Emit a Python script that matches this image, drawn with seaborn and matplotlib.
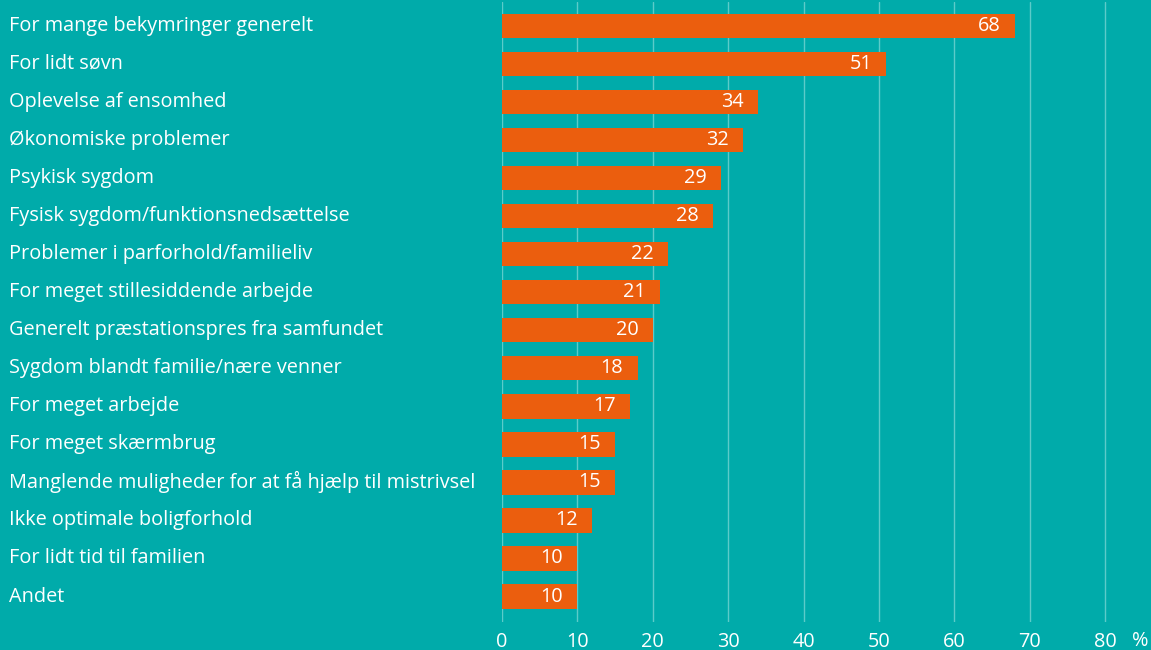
import pandas as pd
import seaborn as sns
import matplotlib.pyplot as plt
from matplotlib.transforms import blended_transform_factory

categories = [
    "For mange bekymringer generelt",
    "For lidt søvn",
    "Oplevelse af ensomhed",
    "Økonomiske problemer",
    "Psykisk sygdom",
    "Fysisk sygdom/funktionsnedsættelse",
    "Problemer i parforhold/familieliv",
    "For meget stillesiddende arbejde",
    "Generelt præstationspres fra samfundet",
    "Sygdom blandt familie/nære venner",
    "For meget arbejde",
    "For meget skærmbrug",
    "Manglende muligheder for at få hjælp til mistrivsel",
    "Ikke optimale boligforhold",
    "For lidt tid til familien",
    "Andet",
]
values = [68, 51, 34, 32, 29, 28, 22, 21, 20, 18, 17, 15, 15, 12, 10, 10]
xticks = [0, 10, 20, 30, 40, 50, 60, 70, 80]

BG = "#00ABAA"
BAR = "#EB5E0E"
GRID = "#5CCBC9"
FS = 14.3

df = pd.DataFrame({"category": categories, "value": values})

sns.set_style("white")
plt.rcParams["font.family"] = ["Open Sans", "DejaVu Sans"]

fig = plt.figure(figsize=(11.51, 6.5), dpi=100, facecolor=BG)
ax = fig.add_axes([502 / 1151, 28 / 650, 1 - 502 / 1151, 620 / 650])
ax.set_facecolor(BG)

sns.barplot(data=df, x="value", y="category", color=BAR, width=0.64,
            saturation=1, linewidth=0, ax=ax, zorder=3)

ax.set_xlim(0, 86.1)
ax.set_ylim(15.67, -0.63)
ax.set_xticks(xticks)
ax.set_xticklabels([str(t) for t in xticks], color="white", fontsize=FS)
ax.tick_params(axis="x", length=0, pad=7)
ax.set_yticks([])
ax.set_xlabel("")
ax.set_ylabel("")
for s in ax.spines.values():
    s.set_visible(False)
for t in xticks:
    ax.axvline(t, color=GRID, lw=1, zorder=1)

trans = blended_transform_factory(fig.transFigure, ax.transData)
for i, (c, v) in enumerate(zip(categories, values)):
    ax.text(9 / 1151, i, c, transform=trans, ha="left", va="center",
            color="white", fontsize=FS)
    ax.text(v - 1.9, i, str(v), ha="right", va="center", color="white",
            fontsize=FS, zorder=4)

fig.text(1140 / 1151, 1 - 641 / 650, "%", ha="center", va="center",
         color="white", fontsize=FS)

plt.savefig("out.png", dpi=100, facecolor=BG)
